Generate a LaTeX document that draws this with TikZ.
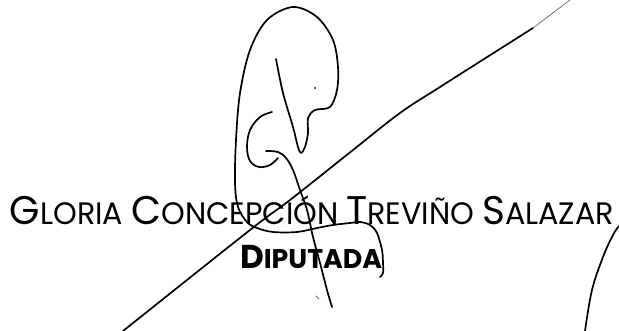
\documentclass[tikz,border=0pt]{standalone}
\usepackage{graphicx}
\usepackage{fontspec}
\setmainfont{Poppins}
\newsavebox\namebox
\newsavebox\titlebox
\newlength\nmlen
\newlength\ttlen
\newcommand\nmB{\fontsize{40}{40}\selectfont}
\newcommand\nmS{\fontsize{31}{31}\selectfont}
\newcommand\tiB{\fontsize{33}{33}\selectfont\bfseries}
\newcommand\tiS{\fontsize{27}{27}\selectfont\bfseries}
\begin{document}
\sbox\namebox{\nmB G\nmS LORIA \nmB C\nmS ONCEPCIÓN \nmB T\nmS REVIÑO \nmB S\nmS ALAZAR}%
\setlength\nmlen{\wd\namebox}%
\sbox\titlebox{\tiB D\tiS IPUTADA}%
\setlength\ttlen{\wd\titlebox}%
\begin{tikzpicture}[x=1pt,y=-1pt,
  sig/.style={line width=1.7pt, line cap=round, line join=round},
  faint/.style={line width=0.8pt, line cap=round, black!55}]
\useasboundingbox (0,0) rectangle (619,331);
\pgfmathsetmacro\nxs{604pt/\nmlen}
\pgfmathsetmacro\txs{142pt/\ttlen}
\node[inner sep=0, anchor=base] (name) at (312,225) {\scalebox{\nxs}[1]{\usebox\namebox}};
\node[inner sep=0, anchor=base] (title) at (311,269) {\scalebox{\txs}[1]{\usebox\titlebox}};
% diagonal stroke
\draw[sig] plot[smooth, tension=0.6] coordinates {(123,331) (250,230) (290,200) (353,150) (400,113) (440,87) (533,28)};
\draw[faint] (533,28) -- (570,0);
% main loop
\draw[sig] plot[smooth, tension=0.55] coordinates {
 (276,59) (283,93) (293,127) (298,147) (301,153) (305,147) (308,133) (308,118) (315,110) (330,107) (337,90) (338,67) (333,40) (317,17) (293,7) (267,20) (250,50) (240,93) (236,140) (235,183) (238,207) (247,222) (257,228) (273,232) (297,232) (317,228) (333,225) (350,223) (360,222) (370,225) (377,233) (382,250) (383,263) (383,273) (380,277)};
% inner C
\draw[sig] plot[smooth, tension=0.6] coordinates {(272,112) (260,117) (250,130) (247,147) (250,161) (259,167) (270,165) (278,158)};
% descending stroke
\draw[sig] plot[smooth, tension=0.6] coordinates {(266,151) (278,152) (286,158) (293,170) (300,190) (307,210) (313,237) (320,263) (327,290) (332,307)};
% right curve
\draw[sig] plot[smooth, tension=0.6] coordinates {(619,226) (613,235) (603,257) (592,290) (585,331)};
% small marks
\fill (315,88) circle (1pt);
\draw[faint] (316,296) -- (319,299);
\end{tikzpicture}
\end{document}
